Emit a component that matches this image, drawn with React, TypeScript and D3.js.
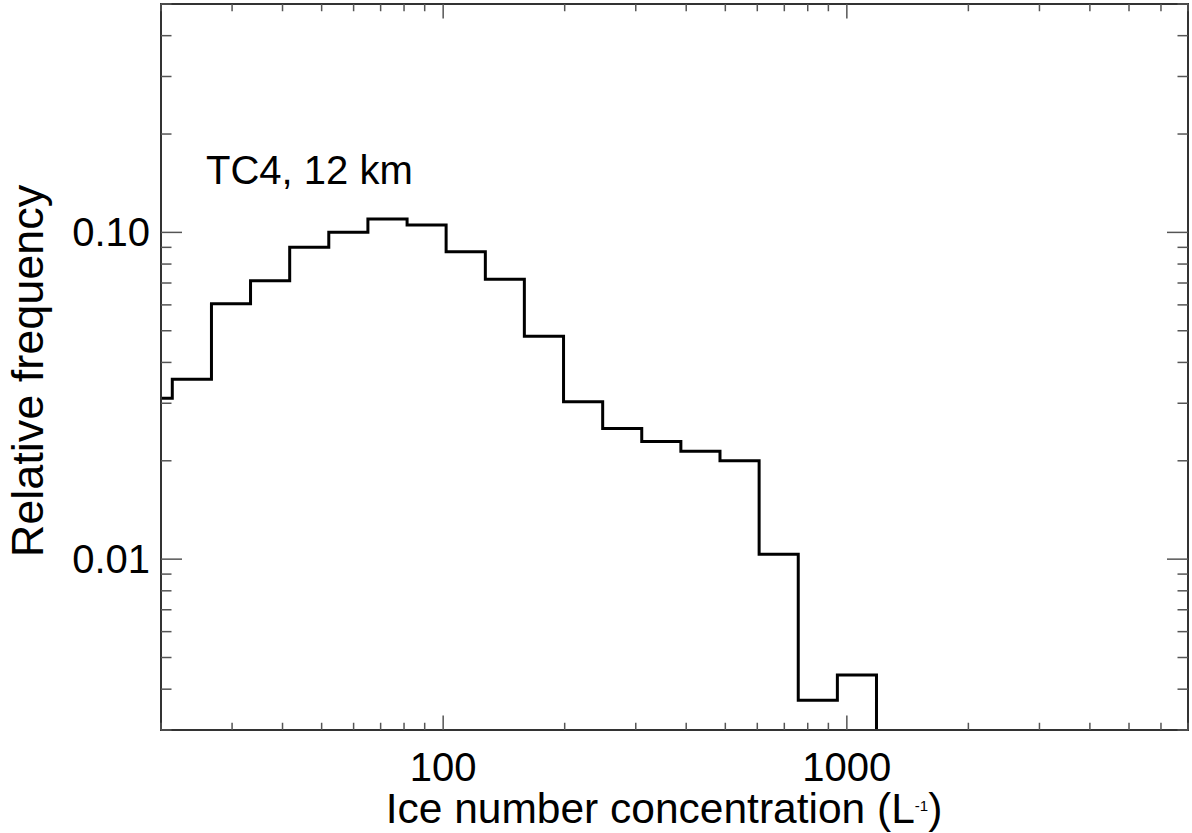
import React from 'react';
import * as d3 from 'd3';

// bin edges (L^-1), log-spaced by 1.25
const binEdges = [17.07, 21.33, 26.67, 33.33, 41.67, 52.08, 65.1, 81.4, 101.7, 127.2, 158.9, 198.7, 248.4, 310.4, 388.0, 485.0, 606.3, 757.9, 947.4, 1184.2];
// relative frequency per bin
const binFreq = [0.0311, 0.0355, 0.0605, 0.0711, 0.09, 0.1001, 0.1099, 0.1054, 0.0873, 0.0719, 0.0481, 0.0303, 0.0251, 0.0229, 0.0214, 0.02, 0.01035, 0.0037, 0.00442];

const xMajor = [100, 1000];
const xMajorLabels = ['100', '1000'];
const xMinor = [20, 30, 40, 50, 60, 70, 80, 90, 200, 300, 400, 500, 600, 700, 800, 900, 2000, 3000, 4000, 5000, 6000, 7000];
const yMajor = [0.01, 0.1];
const yMajorLabels = ['0.01', '0.10'];
const yMinor = [0.003, 0.004, 0.005, 0.006, 0.007, 0.008, 0.009, 0.02, 0.03, 0.04, 0.05, 0.06, 0.07, 0.08, 0.09, 0.2, 0.3, 0.4, 0.5];

const W = 1192;
const H = 833;
const left = 161;
const right = 1188;
const top = 4;
const bottom = 730;
const font = '"Liberation Sans", Arial, Helvetica, sans-serif';

export default function App() {
  const x = d3.scaleLog().domain([20, 7000]).range([left, right]);
  const y = d3.scaleLog().domain([0.003, 0.5]).range([bottom, top]);

  const pts: [number, number][] = [];
  binFreq.forEach((v, i) => {
    pts.push([x(binEdges[i]), y(v)]);
    pts.push([x(binEdges[i + 1]), y(v)]);
  });
  // last bin falls off the bottom of the plot
  pts.push([x(binEdges[binEdges.length - 1]), bottom + 10]);
  const path = d3.line()(pts) ?? '';

  const xLen = 14.5;
  const yLen = 21;
  const axisColor = '#333';

  return (
    <svg width={W} height={H} style={{ position: 'absolute', left: 0, top: 0, background: '#fff' }} fontFamily={font}>
      <defs>
        <clipPath id="plot-clip">
          <rect x={left} y={top} width={right - left} height={bottom - top} />
        </clipPath>
      </defs>
      <path d={path} fill="none" stroke="#000" strokeWidth={3} strokeLinejoin="miter" clipPath="url(#plot-clip)" />

      {/* frame */}
      <rect x={left} y={top} width={right - left} height={bottom - top} fill="none" stroke={axisColor} strokeWidth={2} />

      {/* x ticks bottom and top */}
      {xMinor.map((t) => (
        <g key={`xm${t}`} stroke="#555" strokeWidth={1.5}>
          <line x1={x(t)} x2={x(t)} y1={bottom} y2={bottom - xLen / 2} />
          <line x1={x(t)} x2={x(t)} y1={top} y2={top + xLen / 2} />
        </g>
      ))}
      {xMajor.map((t, i) => (
        <g key={`xM${t}`}>
          <line x1={x(t)} x2={x(t)} y1={bottom} y2={bottom - xLen} stroke="#555" strokeWidth={1.5} />
          <line x1={x(t)} x2={x(t)} y1={top} y2={top + xLen} stroke="#555" strokeWidth={1.5} />
          <text x={x(t)} y={bottom + 51} textAnchor="middle" fontSize={40} fill="#000">{xMajorLabels[i]}</text>
        </g>
      ))}

      {/* y ticks left and right */}
      {yMinor.map((t) => (
        <g key={`ym${t}`} stroke="#555" strokeWidth={1.5}>
          <line x1={left} x2={left + yLen / 2} y1={y(t)} y2={y(t)} />
          <line x1={right} x2={right - yLen / 2} y1={y(t)} y2={y(t)} />
        </g>
      ))}
      {yMajor.map((t, i) => (
        <g key={`yM${t}`}>
          <line x1={left} x2={left + yLen} y1={y(t)} y2={y(t)} stroke="#555" strokeWidth={1.5} />
          <line x1={right} x2={right - yLen} y1={y(t)} y2={y(t)} stroke="#555" strokeWidth={1.5} />
          <text x={left - 11} y={y(t) + 14} textAnchor="end" fontSize={40} fill="#000">{yMajorLabels[i]}</text>
        </g>
      ))}

      <text x={206} y={184} fontSize={40} fill="#000">TC4, 12 km</text>

      <text transform={`translate(43, ${(top + bottom) / 2 + 4}) rotate(-90)`} textAnchor="middle" fontSize={45} fill="#000">
        Relative frequency
      </text>

      <text x={664} y={823} textAnchor="middle" fontSize={42.5} fill="#000">
        Ice number concentration (L
        <tspan fontSize={15} dy={-12}>-1</tspan>
        <tspan dy={12}>)</tspan>
      </text>
    </svg>
  );
}
